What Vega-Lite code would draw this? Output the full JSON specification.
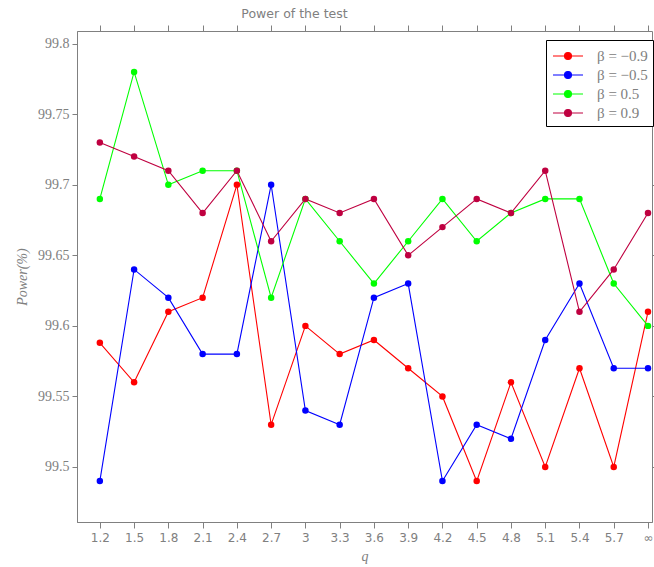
{
  "$schema": "https://vega.github.io/schema/vega-lite/v6.json",
  "width": 575,
  "height": 491,
  "autosize": "none",
  "padding": {"left": 77, "top": 31, "right": 2, "bottom": 45},
  "title": {"text": "Power of the test", "font": "DejaVu Sans", "fontSize": 12.5, "fontWeight": "normal", "color": "#808080", "offset": 4, "dx": -70},
  "config": {
    "view": {"stroke": "#808080", "strokeWidth": 1},
    "axis": {"grid": false, "domainColor": "#808080", "tickColor": "#808080", "labelColor": "#808080", "titleColor": "#808080"}
  },
  "data": {
    "values": [
      {"q": 1.2, "beta": "β = −0.9", "power": 99.588},
      {"q": 1.5, "beta": "β = −0.9", "power": 99.56},
      {"q": 1.8, "beta": "β = −0.9", "power": 99.61},
      {"q": 2.1, "beta": "β = −0.9", "power": 99.62},
      {"q": 2.4, "beta": "β = −0.9", "power": 99.70},
      {"q": 2.7, "beta": "β = −0.9", "power": 99.53},
      {"q": 3.0, "beta": "β = −0.9", "power": 99.60},
      {"q": 3.3, "beta": "β = −0.9", "power": 99.58},
      {"q": 3.6, "beta": "β = −0.9", "power": 99.59},
      {"q": 3.9, "beta": "β = −0.9", "power": 99.57},
      {"q": 4.2, "beta": "β = −0.9", "power": 99.55},
      {"q": 4.5, "beta": "β = −0.9", "power": 99.49},
      {"q": 4.8, "beta": "β = −0.9", "power": 99.56},
      {"q": 5.1, "beta": "β = −0.9", "power": 99.50},
      {"q": 5.4, "beta": "β = −0.9", "power": 99.57},
      {"q": 5.7, "beta": "β = −0.9", "power": 99.50},
      {"q": 6.0, "beta": "β = −0.9", "power": 99.61},
      {"q": 1.2, "beta": "β = −0.5", "power": 99.49},
      {"q": 1.5, "beta": "β = −0.5", "power": 99.64},
      {"q": 1.8, "beta": "β = −0.5", "power": 99.62},
      {"q": 2.1, "beta": "β = −0.5", "power": 99.58},
      {"q": 2.4, "beta": "β = −0.5", "power": 99.58},
      {"q": 2.7, "beta": "β = −0.5", "power": 99.70},
      {"q": 3.0, "beta": "β = −0.5", "power": 99.54},
      {"q": 3.3, "beta": "β = −0.5", "power": 99.53},
      {"q": 3.6, "beta": "β = −0.5", "power": 99.62},
      {"q": 3.9, "beta": "β = −0.5", "power": 99.63},
      {"q": 4.2, "beta": "β = −0.5", "power": 99.49},
      {"q": 4.5, "beta": "β = −0.5", "power": 99.53},
      {"q": 4.8, "beta": "β = −0.5", "power": 99.52},
      {"q": 5.1, "beta": "β = −0.5", "power": 99.59},
      {"q": 5.4, "beta": "β = −0.5", "power": 99.63},
      {"q": 5.7, "beta": "β = −0.5", "power": 99.57},
      {"q": 6.0, "beta": "β = −0.5", "power": 99.57},
      {"q": 1.2, "beta": "β = 0.5", "power": 99.69},
      {"q": 1.5, "beta": "β = 0.5", "power": 99.78},
      {"q": 1.8, "beta": "β = 0.5", "power": 99.70},
      {"q": 2.1, "beta": "β = 0.5", "power": 99.71},
      {"q": 2.4, "beta": "β = 0.5", "power": 99.71},
      {"q": 2.7, "beta": "β = 0.5", "power": 99.62},
      {"q": 3.0, "beta": "β = 0.5", "power": 99.69},
      {"q": 3.3, "beta": "β = 0.5", "power": 99.66},
      {"q": 3.6, "beta": "β = 0.5", "power": 99.63},
      {"q": 3.9, "beta": "β = 0.5", "power": 99.66},
      {"q": 4.2, "beta": "β = 0.5", "power": 99.69},
      {"q": 4.5, "beta": "β = 0.5", "power": 99.66},
      {"q": 4.8, "beta": "β = 0.5", "power": 99.68},
      {"q": 5.1, "beta": "β = 0.5", "power": 99.69},
      {"q": 5.4, "beta": "β = 0.5", "power": 99.69},
      {"q": 5.7, "beta": "β = 0.5", "power": 99.63},
      {"q": 6.0, "beta": "β = 0.5", "power": 99.60},
      {"q": 1.2, "beta": "β = 0.9", "power": 99.73},
      {"q": 1.5, "beta": "β = 0.9", "power": 99.72},
      {"q": 1.8, "beta": "β = 0.9", "power": 99.71},
      {"q": 2.1, "beta": "β = 0.9", "power": 99.68},
      {"q": 2.4, "beta": "β = 0.9", "power": 99.71},
      {"q": 2.7, "beta": "β = 0.9", "power": 99.66},
      {"q": 3.0, "beta": "β = 0.9", "power": 99.69},
      {"q": 3.3, "beta": "β = 0.9", "power": 99.68},
      {"q": 3.6, "beta": "β = 0.9", "power": 99.69},
      {"q": 3.9, "beta": "β = 0.9", "power": 99.65},
      {"q": 4.2, "beta": "β = 0.9", "power": 99.67},
      {"q": 4.5, "beta": "β = 0.9", "power": 99.69},
      {"q": 4.8, "beta": "β = 0.9", "power": 99.68},
      {"q": 5.1, "beta": "β = 0.9", "power": 99.71},
      {"q": 5.4, "beta": "β = 0.9", "power": 99.61},
      {"q": 5.7, "beta": "β = 0.9", "power": 99.64},
      {"q": 6.0, "beta": "β = 0.9", "power": 99.68}
    ]
  },
  "layer": [
    {
      "mark": {"type": "line", "strokeWidth": 1.1, "point": {"filled": true, "size": 42, "opacity": 1}},
      "encoding": {
        "x": {
          "field": "q", "type": "quantitative",
          "scale": {"domain": [1.0, 6.035], "nice": false, "zero": false},
          "axis": {
            "values": [1.2, 1.5, 1.8, 2.1, 2.4, 2.7, 3.0, 3.3, 3.6, 3.9, 4.2, 4.5, 4.8, 5.1, 5.4, 5.7, 6.0],
            "labelExpr": "datum.value > 5.9 ? '∞' : toString(round(datum.value*10)/10)",
            "title": "q", "titleFont": "Liberation Serif", "titleFontStyle": "italic", "titleFontWeight": "normal", "titleFontSize": 14, "titlePadding": 6,
            "labelFont": "DejaVu Sans", "labelFontSize": 12, "tickSize": 6, "labelPadding": 4,
            "encode": {"ticks": {"update": {"y2": {"value": -6}}}}
          }
        },
        "y": {
          "field": "power", "type": "quantitative",
          "scale": {"domain": [99.461, 99.809], "nice": false, "zero": false},
          "axis": {
            "values": [99.5, 99.55, 99.6, 99.65, 99.7, 99.75, 99.8], "format": "~g",
            "title": "Power(%)", "titleFont": "Liberation Serif", "titleFontStyle": "italic", "titleFontWeight": "normal", "titleFontSize": 14, "titlePadding": 8,
            "labelFont": "Liberation Serif", "labelFontSize": 14, "tickSize": 5, "labelPadding": 3
          }
        },
        "color": {
          "field": "beta", "type": "nominal",
          "scale": {"domain": ["β = −0.9", "β = −0.5", "β = 0.5", "β = 0.9"], "range": ["#ff0000", "#0000ff", "#00ff00", "#bf0040"]},
          "legend": {
            "title": null, "orient": "none", "legendX": 469, "legendY": 9,
            "strokeColor": "#000000", "fillColor": "#ffffff", "padding": 5, "rowPadding": 0,
            "labelFont": "Liberation Serif", "labelFontSize": 15, "labelColor": "#808080", "labelOffset": 18,
            "symbolType": "M-1.5,0H1.5M-0.35,0A0.35,0.35 0 1,0 0.35,0A0.35,0.35 0 1,0 -0.35,0Z",
            "symbolSize": 400, "symbolStrokeWidth": 1.1, "symbolOpacity": 1, "symbolOffset": 6,
            "encode": {"symbols": {"update": {"fill": {"scale": "color", "field": "value"}, "stroke": {"scale": "color", "field": "value"}}}}
          }
        }
      }
    },
    {
      "mark": {"type": "point", "opacity": 0},
      "encoding": {
        "x": {"field": "q", "type": "quantitative", "axis": {"orient": "top", "values": [1.2, 1.5, 1.8, 2.1, 2.4, 2.7, 3.0, 3.3, 3.6, 3.9, 4.2, 4.5, 4.8, 5.1, 5.4, 5.7, 6.0], "labels": false, "title": null, "tickSize": 6, "domain": false, "encode": {"ticks": {"update": {"y2": {"value": 6}}}}}},
        "y": {"field": "power", "type": "quantitative", "axis": {"orient": "right", "values": [99.5, 99.55, 99.6, 99.65, 99.7, 99.75, 99.8], "labels": false, "title": null, "tickSize": 6, "domain": false, "encode": {"ticks": {"update": {"x2": {"value": -6}}}}}}
      }
    }
  ],
  "resolve": {"axis": {"x": "independent", "y": "independent"}}
}
